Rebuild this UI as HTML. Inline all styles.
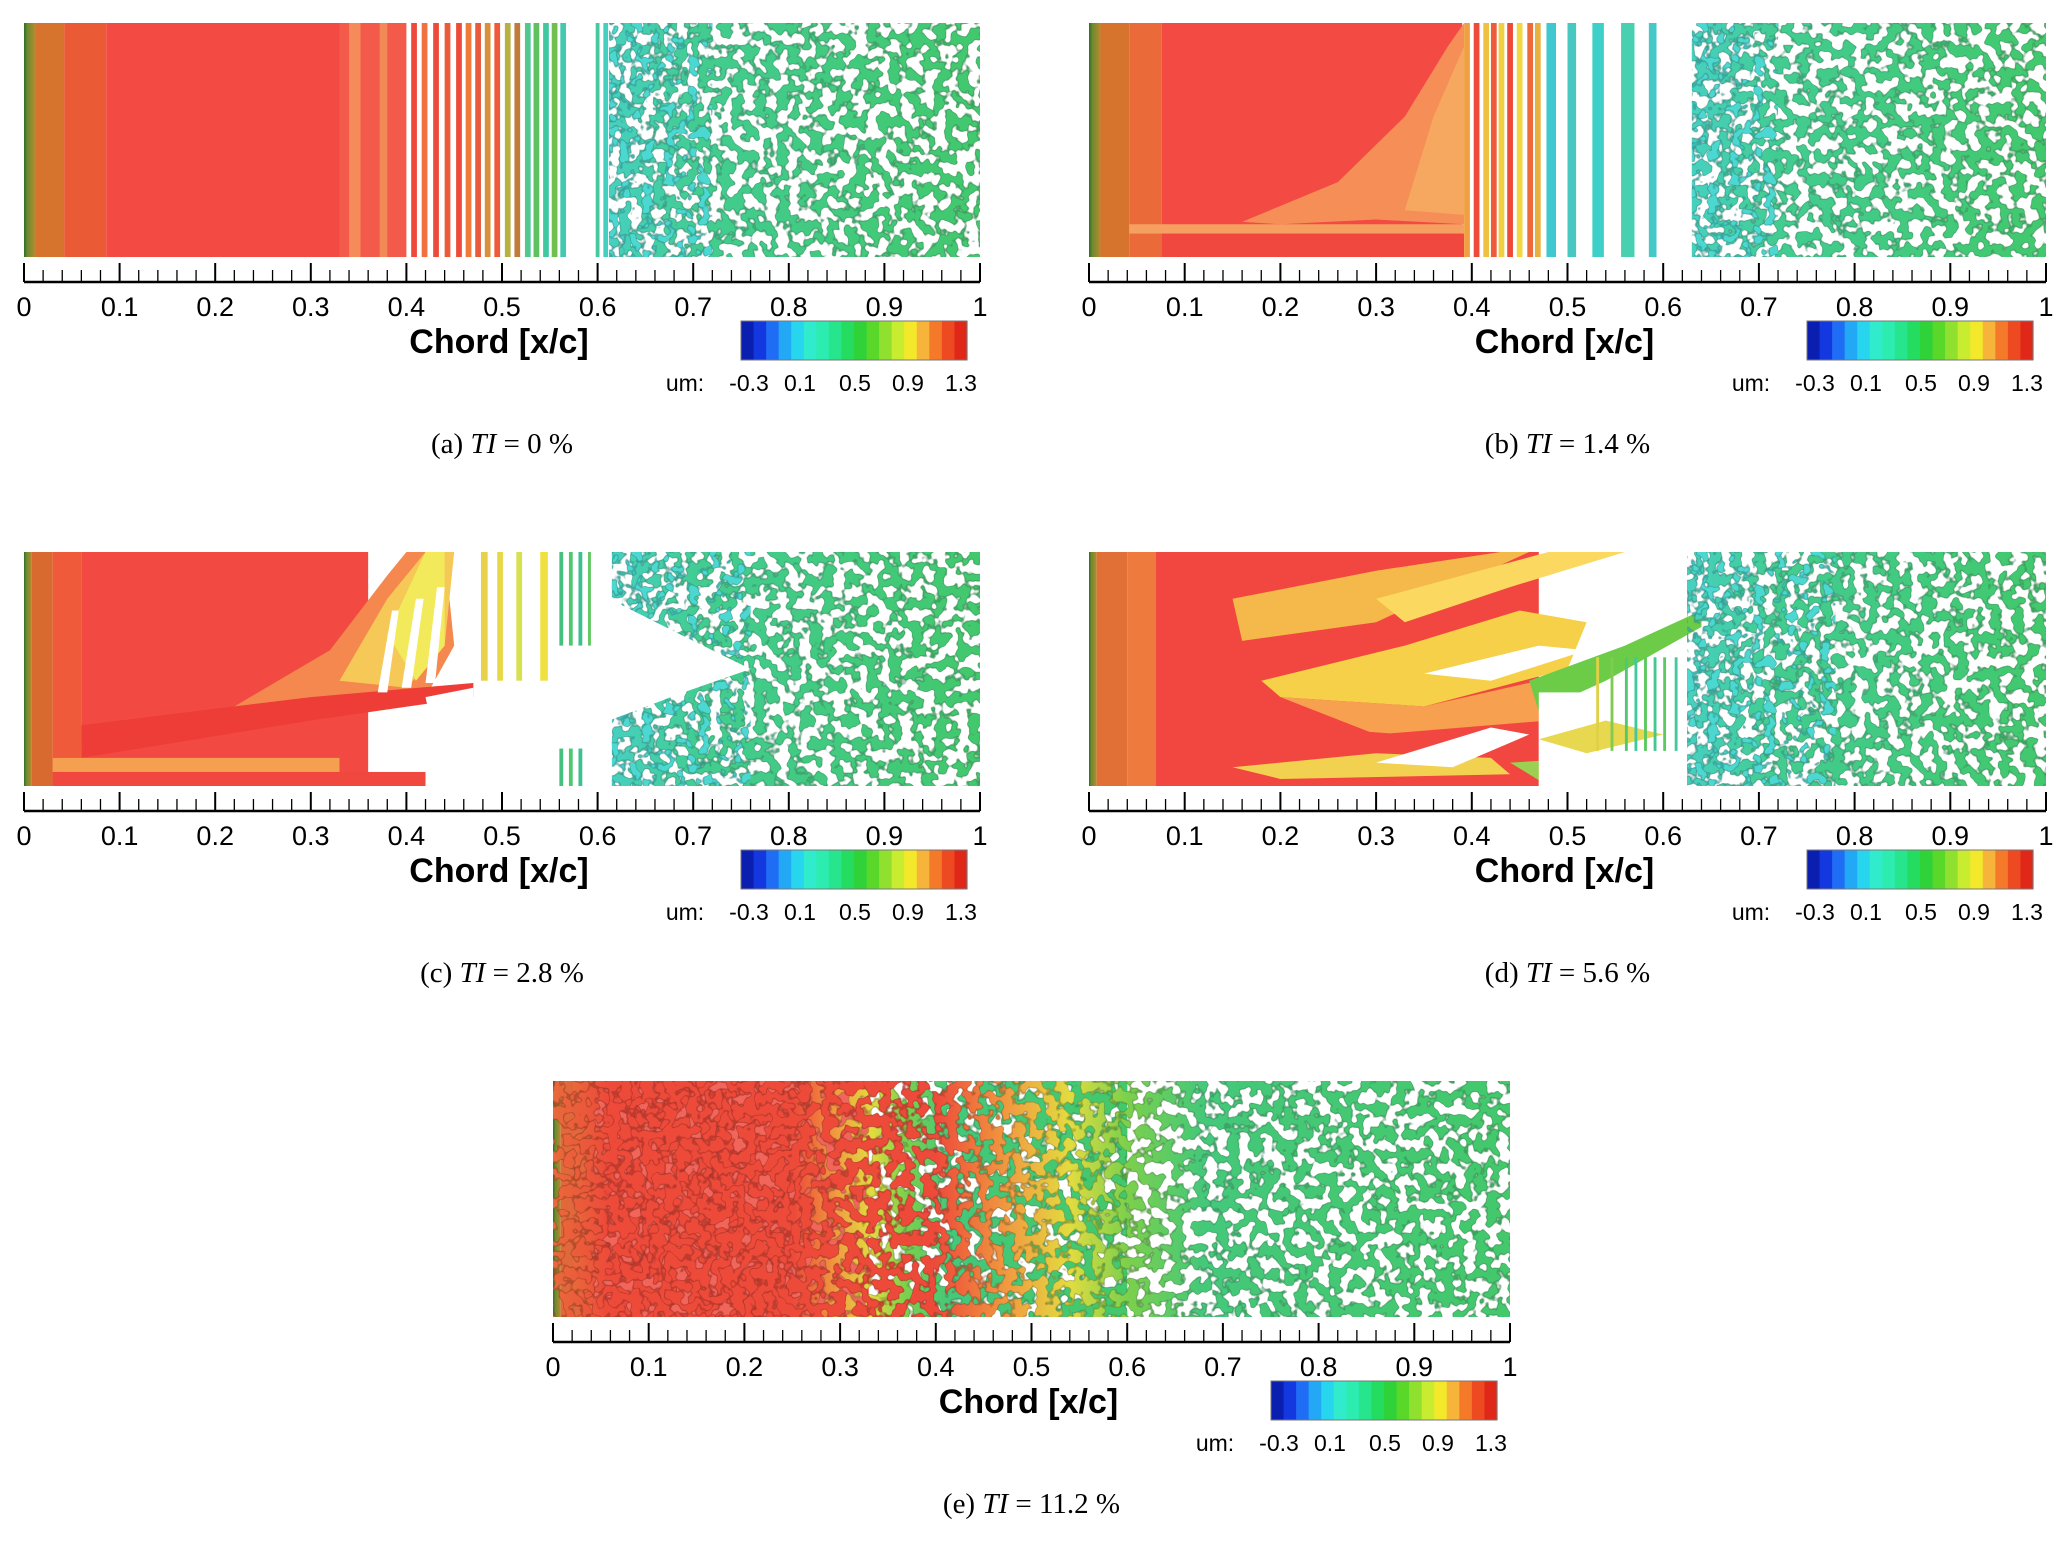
<!DOCTYPE html>
<html><head><meta charset="utf-8"><style>
html,body{margin:0;padding:0;background:#fff;}
svg{display:block;}
</style></head><body>
<svg id="root" width="2067" height="1543" viewBox="0 0 2067 1543" xmlns="http://www.w3.org/2000/svg">
<defs id="defs">
<linearGradient id="lead" x1="0" x2="1" y1="0" y2="0">
<stop offset="0" stop-color="#2f6e2a"/><stop offset="0.3" stop-color="#6e8a2e"/><stop offset="1" stop-color="#b88a30"/>
</linearGradient>
<linearGradient id="gGreen" x1="0" x2="1" y1="0" y2="0">
<stop offset="0" stop-color="#46d0c0"/><stop offset="0.25" stop-color="#42cc90"/><stop offset="1" stop-color="#42c86c"/>
</linearGradient>
<linearGradient id="gE" x1="0" x2="1" y1="0" y2="0">
<stop offset="0" stop-color="#e86a3a"/><stop offset="0.06" stop-color="#ee4a3a"/><stop offset="0.4" stop-color="#ee4a3a"/>
<stop offset="0.48" stop-color="#f0a040"/><stop offset="0.54" stop-color="#e2dc40"/><stop offset="0.6" stop-color="#7cd04c"/>
<stop offset="0.68" stop-color="#44c87a"/><stop offset="1" stop-color="#44c86c"/>
</linearGradient>
</defs>
</svg>
<script>
const NS='http://www.w3.org/2000/svg';
const root=document.getElementById('root');
const defs=document.getElementById('defs');

// axis data
const tickValues=[0,0.1,0.2,0.3,0.4,0.5,0.6,0.7,0.8,0.9,1];
const tickLabels=['0','0.1','0.2','0.3','0.4','0.5','0.6','0.7','0.8','0.9','1'];
const minorStep=0.02;
// colorbar data
const cbColors=['#0a1fb0','#1438e0','#1f6cf5','#22a8f5','#27d6ee','#30eccc','#2cecb0','#26e58c','#24dd60','#30d23a','#5ad82a','#90e030','#c8ec30','#f4e82a','#f6b43a','#f47a2a','#ee4a22','#e02818'];
const cbLabels=['-0.3','0.1','0.5','0.9','1.3'];
const cbLabelOffsets=[8,59,114,167,220];
// panel metadata
const panelIds=['a','b','c','d','e'];
const panelTI=['0','1.4','2.8','5.6','11.2'];
const panelBox=[[24,23,956,234],[1089,23,957,234],[24,552,956,234],[1089,552,957,234],[553,1081,957,236]];

function el(tag,attrs,parent){const e=document.createElementNS(NS,tag);for(const k in attrs)e.setAttribute(k,attrs[k]);(parent||root).appendChild(e);return e;}

function makeFilter(id,seed,thr,fx,fy){
  const f=el('filter',{id:id,x:'0',y:'0',width:'1',height:'1','color-interpolation-filters':'sRGB'},defs);
  el('feTurbulence',{type:'fractalNoise',baseFrequency:fx+' '+fy,numOctaves:'2',seed:seed,result:'n'},f);
  const k=14;
  el('feColorMatrix',{in:'n',type:'matrix',values:'0 0 0 0 0 0 0 0 0 0 0 0 0 0 0 '+k+' 0 0 0 '+(-k*(thr-0.035)),result:'m1'},f);
  el('feColorMatrix',{in:'n',type:'matrix',values:'0 0 0 0 0 0 0 0 0 0 0 0 0 0 0 '+k+' 0 0 0 '+(-k*thr),result:'m2'},f);
  el('feColorMatrix',{in:'SourceGraphic',type:'matrix',values:'0.62 0 0 0 0 0 0.62 0 0 0 0 0 0.62 0 0 0 0 0 1 0',result:'dk'},f);
  el('feComposite',{in:'dk',in2:'m1',operator:'in',result:'a'},f);
  el('feComposite',{in:'SourceGraphic',in2:'m2',operator:'in',result:'b'},f);
  const m=el('feMerge',{},f);el('feMergeNode',{in:'a'},m);el('feMergeNode',{in:'b'},m);
}
const FX=0.085, FY=0.2;
makeFilter('fg1',3,0.48,FX,FY);
makeFilter('fg2',7,0.48,FX,FY);
makeFilter('fg3',11,0.48,FX,FY);
makeFilter('fg4',17,0.48,FX,FY);
makeFilter('fg5',23,0.47,FX,FY);
makeFilter('fc1',31,0.58,FX,FY);
makeFilter('fr5',41,0.42,0.07,0.17);

function R(g,x0,x1,y0,y1,fill,extra){const r=el('rect',Object.assign({x:x0,y:y0,width:x1-x0,height:y1-y0,fill:fill},extra||{}),g);return r;}
function P(g,pts,fill){return el('polygon',{points:pts.map(p=>p.join(',')).join(' '),fill:fill},g);}
function blobs(g,x0,x1,fill,fid){return R(g,x0,x1,0,100,fill,{filter:'url(#'+fid+')'});}
function leading(g){R(g,0,12,0,100,'url(#lead)');}
function stripes(g,list,y0,y1){list.forEach(s=>R(g,s[0],s[0]+(s[2]||6),y0||0,y1||100,s[1]));}

const painters={
a:function(g){
  leading(g);
  R(g,12,42,0,100,'#d6742e');R(g,42,86,0,100,'#ea5a34');R(g,86,330,0,100,'#f34a44');
  R(g,330,400,0,100,'#f35a4a');R(g,340,352,0,100,'#f58a5a');R(g,372,380,0,100,'#f28a58');
  stripes(g,[[405,'#ee4a3a'],[416,'#f07040'],[428,'#ee4a3a'],[440,'#ec5a3a'],[452,'#ee4a3a'],[462,'#f07a3a'],[472,'#e85a3a'],[482,'#d9903a'],[492,'#ee5a3a'],[503,'#b8b040'],[513,'#c07a3a'],[524,'#50c890'],[533,'#60c060'],[543,'#40c8a0'],[552,'#70c050'],[561,'#44c8b0']]);
  stripes(g,[[598,'#48c8a0',4],[606,'#44d0c0',5]]);
  blobs(g,612,1000,'url(#gGreen)','fg1');
  blobs(g,612,720,'#4ad8d0','fc1');
},
b:function(g){
  leading(g);
  R(g,12,42,0,100,'#d6742e');R(g,42,76,0,100,'#ea6a3a');R(g,76,390,0,100,'#f34a44');
  P(g,[[160,85],[260,68],[330,40],[375,10],[392,0],[392,86],[300,84],[200,86]],'#f68e58');
  P(g,[[330,80],[360,40],[392,10],[392,82]],'#f6a860');
  R(g,42,392,86,90,'#f5a060');
  R(g,76,392,90,100,'#f0483e');
  stripes(g,[[392,'#f0a040'],[402,'#ee4a3a'],[412,'#f0c040'],[420,'#ee5a3a'],[428,'#f0d040'],[437,'#ee4a3a'],[447,'#f0d840'],[458,'#ee6a3a'],[466,'#e8b040']]);
  stripes(g,[[478,'#40c8d0',10],[500,'#48c8c0',9],[526,'#3cd0c8',12],[556,'#48d0b0',14],[585,'#44c8c8',8]]);
  blobs(g,630,1000,'url(#gGreen)','fg2');
  blobs(g,630,720,'#4ad8d0','fc1');
},
c:function(g){
  R(g,0,8,0,100,'url(#lead)');R(g,8,30,0,100,'#d86a30');R(g,30,60,0,100,'#ee5a3a');
  R(g,60,360,0,100,'#f24a42');
  P(g,[[60,82],[220,66],[320,42],[380,10],[400,0],[440,0],[450,40],[420,62],[300,70],[150,78],[60,86]],'#f5884e');
  P(g,[[330,55],[380,20],[420,0],[450,0],[440,40],[400,58]],'#f6c858');
  P(g,[[380,35],[420,0],[440,0],[440,40],[410,55]],'#f2ea5a');
  P(g,[[60,74],[300,62],[470,56],[470,62],[300,72],[60,88]],'#ee3c36');
  R(g,30,330,88,94,'#f5a050');R(g,30,420,94,100,'#f0483e');
  P(g,[[420,62],[470,58],[470,100],[440,100]],'#ffffff');
  P(g,[[370,60],[385,25],[392,25],[380,60]],'#ffffff');
  P(g,[[395,58],[410,20],[418,20],[405,58]],'#ffffff');
  P(g,[[420,56],[432,15],[440,15],[430,56]],'#ffffff');
  stripes(g,[[478,'#e8d048',7],[495,'#e8d848',6],[515,'#d8e050',6],[540,'#f0e040',8]],0,55);
  stripes(g,[[560,'#44c080',4],[570,'#50c870',4],[580,'#3cc090',4],[590,'#60c860',3]],0,40);
  stripes(g,[[560,'#44c080',4],[570,'#50c870',4],[580,'#3cc090',4]],84,100);
  blobs(g,615,1000,'url(#gGreen)','fg3');
  blobs(g,615,760,'#4ad8d0','fc1');
  P(g,[[612,20],[700,38],[760,50],[690,60],[612,72]],'#ffffff');
},
d:function(g){
  R(g,0,8,0,100,'url(#lead)');R(g,8,40,0,100,'#e07036');R(g,40,70,0,100,'#ef7a3e');
  R(g,70,470,0,100,'#f24640');
  P(g,[[150,20],[300,8],[430,0],[460,0],[300,30],[160,38]],'#f5b84a');
  P(g,[[180,55],[330,40],[450,25],[520,30],[500,50],[350,66],[200,62]],'#f5d048');
  P(g,[[200,62],[350,66],[470,55],[480,72],[300,78]],'#f6a050');
  P(g,[[70,70],[330,78],[460,85],[470,100],[70,100]],'#f24640');
  P(g,[[150,92],[300,86],[420,88],[440,95],[200,97]],'#f2d050');
  P(g,[[300,20],[480,0],[560,0],[440,15],[330,30]],'#fbd860');
  P(g,[[350,52],[470,40],[520,42],[420,55]],'#ffffff');
  P(g,[[300,90],[420,75],[460,78],[380,92]],'#ffffff');
  P(g,[[460,55],[560,40],[640,25],[640,32],[540,55],[470,68]],'#6ccc48');
  P(g,[[440,90],[520,88],[560,96],[480,100]],'#9cd050');
  R(g,470,620,60,100,'#ffffff');
  P(g,[[470,80],[540,72],[600,78],[520,86]],'#e8d850');
  stripes(g,[[530,'#e0d048',3],[545,'#80cc50',3],[560,'#50c870',3],[570,'#40c8a0',3],[580,'#5cc860',3],[590,'#44c890',3],[600,'#60c860',3],[612,'#44c8a0',3]],45,85);
  blobs(g,625,1000,'url(#gGreen)','fg4');
  blobs(g,625,780,'#4ad8d0','fc1');
},
e:function(g){
  R(g,0,8,0,100,'url(#lead)');R(g,8,40,0,100,'#e0683a');
  R(g,40,330,0,100,'#f04a3e',{opacity:'0.85'});
  blobs(g,20,600,'url(#gE)','fr5');
  blobs(g,0,1000,'url(#gE)','fg5');
}
};

panelIds.forEach((pid,i)=>{
  const [x,y,w,h]=panelBox[i];
  const g=el('g',{});
  
  
  const s=el('svg',{x:x,y:y,width:w,height:h,viewBox:'0 0 1000 100',preserveAspectRatio:'none'},g);
  
  
  R(s,0,1000,0,100,'#ffffff');
  painters[pid](s);
  const xs=v=>x+v*w;
  const ax=el('g',{},g);
  
  
  const base=y+h+25;
  el('line',{x1:x,x2:x+w,y1:base,y2:base,stroke:'#000','stroke-width':2.5},ax);
  for(let k=0;k<=Math.round(1/minorStep);k++){
    const v=k*minorStep;
    const major=(k%5===0);
    const t=el('line',{x1:xs(v),x2:xs(v),y1:major?y+h+6:y+h+13,y2:base,stroke:'#000','stroke-width':major?2:1.3},ax);
    
    
  }
  tickValues.forEach((v,j)=>{
    const t=el('text',{x:xs(v),y:y+h+59,'text-anchor':'middle','font-family':'Liberation Sans, sans-serif','font-size':'27'},ax);
    t.textContent=tickLabels[j];
    
    
  });
  const ttl=el('text',{x:x+w/2-3,y:y+h+96,'text-anchor':'middle','font-family':'Liberation Sans, sans-serif','font-size':'34','font-weight':'bold'},g);
  ttl.textContent='Chord [x/c]';
  
  
  const cb=el('g',{},g);
  
  
  const cbw=226,cbh=39,cbx=x+w-13-cbw,cby=y+h+64;
  const bw=cbw/cbColors.length;
  cbColors.forEach((c,j)=>{
    const r=el('rect',{x:cbx+j*bw,y:cby,width:bw+0.6,height:cbh,fill:c},cb);
    
    
  });
  el('rect',{x:cbx,y:cby,width:cbw,height:cbh,fill:'none',stroke:'#777','stroke-width':1},cb);
  const um=el('text',{x:cbx-56,y:y+h+134,'text-anchor':'middle','font-family':'Liberation Sans, sans-serif','font-size':'23'},cb);
  um.textContent='um:';
  
  
  cbLabels.forEach((l,j)=>{
    const t=el('text',{x:cbx+cbLabelOffsets[j],y:y+h+134,'text-anchor':'middle','font-family':'Liberation Sans, sans-serif','font-size':'23'},cb);
    t.textContent=l;
    
    
  });
  const cap=el('text',{x:x+w/2,y:y+h+196,'text-anchor':'middle','font-family':'Liberation Serif, serif','font-size':'29'},g);
  
  
  const t1=el('tspan',{},cap);t1.textContent='('+pid+') ';
  const t2=el('tspan',{'font-style':'italic'},cap);t2.textContent='TI';
  const t3=el('tspan',{},cap);t3.textContent=' = '+panelTI[i]+' %';
});
</script>
</body></html>
